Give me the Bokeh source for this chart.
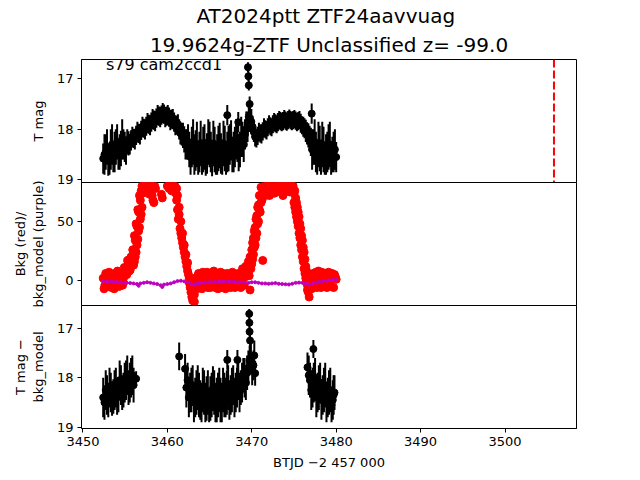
import numpy as np
from bokeh.plotting import figure
from bokeh.layouts import column
from bokeh.models import Range1d, FixedTicker, Label, Span, Title
from bokeh.embed import file_html
from bokeh.resources import INLINE

# ---------------- data ----------------
t_mag = [3452.4, 3452.7, 3453.0, 3453.3, 3453.6, 3453.9, 3454.2, 3454.5, 3454.8, 3455.1,
         3455.4, 3455.7, 3456.0, 3456.3, 3456.6, 3456.9, 3457.2, 3457.5, 3457.8, 3458.1,
         3458.4, 3458.7, 3459.0, 3459.3, 3459.6, 3459.9, 3460.2, 3460.5, 3460.8, 3461.1,
         3461.4, 3461.7, 3462.0, 3462.3, 3462.6, 3462.9, 3463.2, 3463.5, 3463.8, 3464.1,
         3464.4, 3464.7, 3465.0, 3465.3, 3465.6, 3465.9, 3466.2, 3466.5, 3466.8, 3467.1,
         3467.4, 3467.7, 3468.0, 3468.3, 3468.6, 3468.9, 3469.2, 3469.5, 3469.8, 3470.1,
         3470.4, 3470.7, 3471.0, 3471.3, 3471.6, 3471.9, 3472.2, 3472.5, 3472.8, 3473.1,
         3473.4, 3473.7, 3474.0, 3474.3, 3474.6, 3474.9, 3475.2, 3475.5, 3475.8, 3476.1,
         3476.4, 3476.7, 3477.0, 3477.3, 3477.6, 3477.9, 3478.2, 3478.5, 3478.8, 3479.1,
         3479.4, 3479.7, 3480.0,
         3467.1, 3468.4, 3469.55, 3469.6, 3469.65, 3469.75, 3477.1,
         3452.55, 3452.85, 3453.15, 3453.45, 3453.75, 3454.05, 3454.35, 3454.65, 3454.95, 3455.25,
         3455.55, 3455.85, 3456.15, 3456.45, 3456.75, 3457.05, 3457.35, 3457.65, 3457.95, 3458.25,
         3458.55, 3458.85, 3459.15, 3459.45, 3459.75, 3460.05, 3460.35, 3460.65, 3460.95, 3461.25,
         3461.55, 3461.85, 3462.15, 3462.45,
         3462.75, 3463.05, 3463.35, 3463.65, 3463.95, 3464.25, 3464.55, 3464.85, 3465.15, 3465.45,
         3465.75, 3466.05, 3466.35, 3466.65, 3466.95, 3467.25, 3467.55, 3467.85, 3468.15, 3468.45,
         3468.75, 3469.05, 3469.35, 3469.65, 3469.95, 3470.25,
         3470.55, 3470.85, 3471.15, 3471.45, 3471.75, 3472.05, 3472.35, 3472.65, 3472.95, 3473.25,
         3473.55, 3473.85, 3474.15, 3474.45, 3474.75, 3475.05, 3475.35, 3475.65, 3475.95, 3476.25,
         3476.55, 3476.85,
         3477.15, 3477.45, 3477.75, 3478.05, 3478.35, 3478.65, 3478.95, 3479.25, 3479.55, 3479.85]
mag = [18.58, 18.45, 18.62, 18.40, 18.55, 18.35, 18.50, 18.38, 18.30, 18.42,
       18.28, 18.22, 18.18, 18.12, 18.08, 18.02, 17.98, 17.94, 17.90, 17.86,
       17.82, 17.78, 17.74, 17.72, 17.70, 17.74, 17.76, 17.80, 17.86, 17.92,
       18.00, 18.10, 18.20, 18.30, 18.40, 18.35, 18.50, 18.30, 18.45, 18.55,
       18.35, 18.48, 18.30, 18.58, 18.40, 18.50, 18.32, 18.55, 18.38, 18.45,
       18.30, 18.50, 18.35, 18.25, 18.40, 18.20, 18.10, 17.95, 17.80, 17.95,
       18.15, 18.13, 18.08, 18.04, 18.00, 17.96, 17.94, 17.90, 17.88, 17.86,
       17.84, 17.84, 17.83, 17.82, 17.82, 17.82, 17.83, 17.84, 17.88, 17.95,
       18.03, 18.12, 18.25, 18.35, 18.45, 18.30, 18.55, 18.40, 18.50, 18.35,
       18.60, 18.45, 18.55,
       17.72, 17.86, 16.77, 16.95, 17.13, 17.50, 17.69,
       18.50, 18.35, 18.60, 18.30, 18.45, 18.25, 18.45, 18.20, 18.35, 18.25,
       18.30, 18.15, 18.20, 18.05, 18.10, 17.95, 18.00, 17.88, 17.92, 17.80,
       17.84, 17.72, 17.76, 17.68, 17.76, 17.72, 17.82, 17.80, 17.92, 17.90,
       18.08, 18.12, 18.30, 18.25,
       18.55, 18.25, 18.42, 18.60, 18.28, 18.40, 18.62, 18.25, 18.45, 18.28,
       18.60, 18.38, 18.48, 18.28, 18.58, 18.38, 18.22, 18.45, 18.20, 18.48,
       18.15, 18.30, 18.00, 17.75, 17.85, 18.05,
       18.18, 18.05, 18.10, 17.96, 18.02, 17.90, 17.96, 17.86, 17.90, 17.82,
       17.86, 17.80, 17.85, 17.79, 17.84, 17.80, 17.86, 17.82, 17.92, 17.98,
       18.08, 18.18,
       18.40, 18.25, 18.55, 18.38, 18.30, 18.60, 18.45, 18.30, 18.50, 18.40]
mag_err = [0.30, 0.35, 0.30, 0.40, 0.30, 0.35, 0.30, 0.35, 0.30, 0.28,
           0.24, 0.20, 0.19, 0.19, 0.19, 0.19, 0.19, 0.19, 0.19, 0.19,
           0.19, 0.19, 0.19, 0.19, 0.19, 0.19, 0.19, 0.19, 0.19, 0.19,
           0.20, 0.22, 0.26, 0.30, 0.35, 0.40, 0.40, 0.45, 0.40, 0.35,
           0.45, 0.40, 0.45, 0.35, 0.45, 0.40, 0.45, 0.35, 0.45, 0.40,
           0.40, 0.35, 0.40, 0.40, 0.35, 0.35, 0.30, 0.30, 0.25, 0.22,
           0.19, 0.18, 0.18, 0.18, 0.18, 0.18, 0.18, 0.18, 0.18, 0.18,
           0.18, 0.18, 0.18, 0.18, 0.18, 0.18, 0.18, 0.18, 0.19, 0.20,
           0.22, 0.24, 0.28, 0.35, 0.40, 0.45, 0.35, 0.45, 0.40, 0.45,
           0.30, 0.40, 0.30,
           0.20, 0.20, 0.10, 0.10, 0.10, 0.15, 0.20,
           0.40, 0.35, 0.30, 0.40, 0.40, 0.35, 0.35, 0.40, 0.30, 0.25,
           0.20, 0.20, 0.20, 0.20, 0.20, 0.20, 0.20, 0.20, 0.20, 0.20,
           0.20, 0.20, 0.20, 0.20, 0.20, 0.20, 0.20, 0.20, 0.20, 0.20,
           0.22, 0.25, 0.30, 0.35,
           0.35, 0.45, 0.40, 0.30, 0.45, 0.45, 0.30, 0.45, 0.40, 0.45,
           0.30, 0.45, 0.40, 0.45, 0.32, 0.45, 0.40, 0.40, 0.40, 0.35,
           0.40, 0.35, 0.35, 0.30, 0.25, 0.20,
           0.18, 0.18, 0.18, 0.18, 0.18, 0.18, 0.18, 0.18, 0.18, 0.18,
           0.18, 0.18, 0.18, 0.18, 0.18, 0.18, 0.18, 0.18, 0.18, 0.20,
           0.22, 0.25,
           0.40, 0.45, 0.35, 0.45, 0.45, 0.30, 0.40, 0.45, 0.35, 0.40]

t_bkg = [3452.4, 3452.6, 3452.8, 3453.0, 3453.2, 3453.4, 3453.6, 3453.8, 3454.0, 3454.2,
         3454.4, 3454.6, 3454.8, 3455.0, 3455.2, 3455.4, 3455.6, 3455.8, 3456.0,
         3456.0, 3456.2, 3456.2, 3456.4, 3456.4, 3456.6, 3456.6, 3456.8, 3456.8, 3456.9,
         3457.0, 3457.0, 3457.2, 3457.4, 3457.6, 3457.8, 3458.0, 3458.2, 3458.2, 3458.4,
         3458.4, 3458.6, 3459.3, 3459.4,
         3460.0, 3460.2, 3460.4, 3460.6, 3460.8, 3461.0,
         3461.1, 3461.2, 3461.3, 3461.4, 3461.5, 3461.6, 3461.7, 3461.8, 3461.9, 3462.0,
         3462.1, 3462.2, 3462.3, 3462.4, 3462.5, 3462.6, 3462.7, 3462.8, 3462.9, 3463.0,
         3463.1, 3463.2, 3463.4,
         3463.6, 3463.8, 3464.0, 3464.2, 3464.4, 3464.6, 3464.8, 3465.0, 3465.2, 3465.4,
         3465.6, 3465.8, 3466.0, 3466.2, 3466.4, 3466.6, 3466.8, 3467.0, 3467.2, 3467.4,
         3467.6, 3467.8, 3468.0, 3468.2, 3468.4, 3468.6, 3468.8, 3469.0,
         3469.2, 3469.3, 3469.5, 3469.6, 3469.8, 3469.8, 3470.0, 3470.0, 3470.2, 3470.2,
         3470.4, 3470.4, 3470.6, 3470.6, 3470.8, 3470.8, 3471.0, 3471.0, 3471.2, 3471.3,
         3471.4, 3471.5, 3471.6,
         3471.8, 3472.0, 3472.2, 3472.4, 3472.6, 3472.8, 3473.0, 3473.2, 3473.4, 3473.6,
         3473.8, 3474.0, 3474.2, 3474.4, 3474.6, 3474.8, 3475.0,
         3475.0, 3475.2, 3475.2, 3475.4, 3475.4, 3475.6, 3475.6, 3475.8, 3475.8, 3476.0,
         3476.0, 3476.2, 3476.2, 3476.4, 3476.4, 3476.6, 3476.7, 3476.8, 3476.9,
         3477.0, 3477.2, 3477.4, 3477.6, 3477.8, 3478.0, 3478.2, 3478.4, 3478.6, 3478.8,
         3479.0, 3479.2, 3479.4, 3479.6, 3479.8, 3480.0,
         3452.5, 3452.7, 3452.9, 3453.1, 3453.3, 3453.5, 3453.7, 3453.9, 3454.1, 3454.3,
         3454.5, 3454.7, 3454.9, 3455.1, 3455.3, 3455.5, 3455.7, 3455.9,
         3456.1, 3456.3, 3456.5, 3456.7, 3456.1, 3456.3, 3456.5, 3456.7, 3456.9, 3457.1,
         3457.1, 3457.3, 3457.5, 3457.7, 3457.9, 3458.1, 3458.3, 3458.5,
         3460.1, 3460.3, 3460.5, 3460.7, 3460.9, 3461.1,
         3461.2, 3461.4, 3461.6, 3461.8, 3462.0, 3462.2, 3462.4, 3462.6, 3462.8, 3463.0,
         3463.2, 3463.3,
         3463.5, 3463.7, 3463.9, 3464.1, 3464.3, 3464.5, 3464.7, 3464.9, 3465.1, 3465.3,
         3465.5, 3465.7, 3465.9, 3466.1, 3466.3, 3466.5, 3466.7, 3466.9, 3467.1, 3467.3,
         3467.5, 3467.7, 3467.9, 3468.1, 3468.3, 3468.5, 3468.7, 3468.9, 3469.1,
         3469.4, 3469.7, 3469.9, 3470.1, 3470.3, 3470.5, 3470.7, 3470.9, 3471.1, 3471.3,
         3470.1, 3470.3, 3470.5, 3470.7, 3470.9, 3471.1,
         3471.7, 3471.9, 3472.1, 3472.3, 3472.5, 3472.7, 3472.9, 3473.1, 3473.3, 3473.5,
         3473.7, 3473.9, 3474.1, 3474.3, 3474.5, 3474.7, 3474.9,
         3475.1, 3475.3, 3475.5, 3475.7, 3475.9, 3476.1, 3476.3, 3476.5,
         3475.1, 3475.3, 3475.5, 3475.7, 3475.9, 3476.1, 3476.3, 3476.5, 3476.6, 3476.8,
         3477.1, 3477.3, 3477.5, 3477.7, 3477.9, 3478.1, 3478.3, 3478.5, 3478.7, 3478.9,
         3479.1, 3479.3, 3479.5, 3479.7, 3479.9]
bkg = [2, -4, 5, -2, 3, -6, 1, 6, -3, 4,
       -1, 7, 2, 10, 5, 14, 9, 18, 13,
       24, 20, 34, 30, 46, 42, 58, 52, 68, 76,
       62, 80, 79, 80, 77, 80, 78, 72, 80, 66,
       79, 78, 73, 70,
       80, 78, 80, 77, 79, 74,
       68, 60, 52, 62, 44, 50, 36, 40, 28, 30,
       20, 22, 12, 15, 5, 2, -6, -10, -14, -17,
       -8, -12, -3,
       4, -5, 2, 7, -3, 3, -6, 5, -1, 6,
       -4, 2, -7, 4, 0, 6, -3, 3, -5, 5,
       -2, 4, -6, 2, 6, -3, 4, 8,
       3, 12, 8, 16, -8, 20, 14, 26, 22, 36,
       30, 45, 40, 55, 50, 64, 58, 72, 68, 17,
       76, 80, 72,
       80, 76, 80, 74, 79, 80, 77, 80, 75, 80,
       79, 80, 76, 80, 78, 80, 74,
       66, 70, 58, 62, 50, 54, 40, 44, 30, 34,
       20, 24, 10, 12, 2, -4, -10, -14, -6,
       2, -5, 4, 7, -2, 5, -6, 3, 0, 6,
       -3, 4, -5, 2, 5, 1,
       -7, 6, -5, 7, -1, 4, -7, 0, 8, -5,
       3, -4, 11, 6, 17, 8, 20, 26,
       38, 48, 60, 72, 16, 24, 35, 45, 56, 74,
       80, 76, 80, 79, 73, 80, 68, 80,
       80, 79, 76, 80, 80, 78,
       72, 56, 40, 32, 24, 16, 8, -2, -4, -2,
       -18, 2,
       -7, 6, -1, -7, 5, -5, 7, 0, -6, 3,
       8, -6, 5, -2, 7, -6, 2, -7, 6, 0,
       -6, 7, -1, 5, -5, 1, -6, 10, -4,
       5, 4, 10, 18, 28, 36, 48, 60, 66, 78,
       32, 42, 52, 62, 72, 79,
       77, 80, 72, 80, 78, 74, 80, 79, 80, 78,
       72, 80, 78, 80, 75, 79, 80,
       76, 66, 46, 36, 26, 16, 6, -2,
       62, 54, 58, 48, 38, 28, 18, 8, -8, -2,
       -7, 6, -3, -6, 8, 0, 7, -5, 4, -6,
       7, -1, 6, -6, 3]

t_model = [3452.4, 3452.8, 3453.2, 3453.6, 3454.0, 3454.4, 3454.8, 3455.2, 3455.6, 3456.0,
           3456.4, 3456.6, 3456.8, 3457.2, 3457.6, 3458.0, 3458.4, 3458.8, 3459.2, 3459.4,
           3459.6, 3460.0, 3460.4, 3460.8, 3461.2, 3461.6, 3462.0, 3462.4, 3462.8, 3463.2,
           3463.6, 3464.0, 3464.4, 3464.8, 3465.2, 3465.6, 3466.0, 3466.4, 3466.8, 3467.2,
           3467.6, 3468.0, 3468.4, 3468.8, 3469.2, 3469.6, 3470.0, 3470.4, 3470.8, 3471.2,
           3471.6, 3472.0, 3472.4, 3472.8, 3473.2, 3473.6, 3474.0, 3474.4, 3474.8, 3475.2,
           3475.6, 3476.0, 3476.4, 3476.8, 3477.2, 3477.6, 3478.0, 3478.4, 3478.8, 3479.2,
           3479.6, 3480.0]
bkg_model = [-0.5, -0.8, -1.0, -1.2, -1.0, -1.5, -1.8, -2.0, -2.2, -2.5,
             -3.0, -4.5, -2.5, -2.0, -1.5, -2.0, -2.5, -3.0, -4.0, -5.5,
             -3.5, -3.0, -2.5, -1.5, -0.5, -0.2, -0.8, -1.5, -3.0, -3.5,
             -2.5, -2.0, -1.8, -1.5, -1.5, -1.2, -1.0, -1.0, -0.9, -0.8,
             -1.0, -1.2, -1.5, -1.5, -1.8, -2.0, -1.5, -1.5, -2.0, -2.5,
             -2.5, -2.8, -2.5, -2.2, -2.8, -3.0, -3.2, -3.4, -2.8, -2.0,
             -1.8, -2.0, -2.5, -3.4, -2.5, -1.8, -1.2, -0.6, -0.2, 0.2,
             0.6, 1.0]

t_sub = [3452.4, 3452.7, 3453.0, 3453.3, 3453.6, 3453.9, 3454.2, 3454.5, 3454.8, 3455.1,
         3455.4, 3455.7, 3456.0, 3456.3,
         3461.4, 3462.1, 3462.4, 3462.7, 3463.0, 3463.3, 3463.6, 3463.9, 3464.2, 3464.5,
         3464.8, 3465.1, 3465.4, 3465.7, 3466.0, 3466.3, 3466.6, 3466.9, 3467.2, 3467.5,
         3467.8, 3468.1, 3468.4, 3468.7, 3469.0, 3469.3, 3469.6, 3469.9, 3470.2, 3470.4,
         3467.1, 3468.3, 3469.7, 3469.72, 3469.74, 3469.8,
         3476.6, 3476.9, 3477.2, 3477.3, 3477.5, 3477.8, 3478.1, 3478.4, 3478.7, 3479.0,
         3479.3, 3479.6, 3479.8,
         3452.55, 3452.85, 3453.15, 3453.45, 3453.75, 3454.05, 3454.35, 3454.65, 3454.95, 3455.25,
         3455.55, 3455.85,
         3462.25, 3462.55, 3462.85, 3463.15, 3463.45, 3463.75, 3464.05, 3464.35, 3464.65, 3464.95,
         3465.25, 3465.55, 3465.85, 3466.15, 3466.45, 3466.75, 3467.05, 3467.35, 3467.65, 3467.95,
         3468.25, 3468.55, 3468.85, 3469.15, 3469.45, 3469.75, 3470.05, 3470.3,
         3476.75, 3477.05, 3477.35, 3477.65, 3477.95, 3478.25, 3478.55, 3478.85, 3479.15, 3479.45,
         3479.7]
mag_sub = [18.40, 18.25, 18.45, 18.30, 18.38, 18.20, 18.35, 18.15, 18.25, 18.05,
           18.20, 18.00, 18.15, 18.02,
           17.57, 17.82, 18.05, 18.30, 18.15, 18.40, 18.20, 18.45, 18.25, 18.50,
           18.30, 18.42, 18.22, 18.50, 18.35, 18.45, 18.25, 18.40, 18.20, 18.35,
           18.15, 18.30, 18.05, 18.20, 17.95, 18.10, 17.80, 17.60, 17.75, 17.91,
           17.64, 17.64, 16.71, 16.89, 17.07, 17.25,
           17.79, 18.05, 18.20, 17.42, 18.00, 18.30, 18.10, 18.35, 18.15, 18.40,
           18.25, 18.45, 18.30,
           18.50, 18.35, 18.20, 18.42, 18.25, 18.40, 18.05, 18.30, 18.10, 17.95,
           18.10, 17.95,
           18.20, 18.40, 18.25, 18.50, 18.30, 18.35, 18.50, 18.30, 18.42, 18.55,
           18.35, 18.30, 18.45, 18.25, 18.50, 18.35, 18.30, 18.45, 18.25, 18.40,
           18.20, 18.30, 18.10, 18.00, 17.90, 17.65, 17.85, 17.55,
           17.95, 18.25, 18.10, 18.40, 18.20, 18.45, 18.25, 18.50, 18.30, 18.55,
           18.35]
mag_sub_err = [0.40, 0.40, 0.35, 0.40, 0.35, 0.40, 0.35, 0.40, 0.35, 0.40,
               0.35, 0.40, 0.35, 0.15,
               0.28, 0.30, 0.35, 0.40, 0.40, 0.40, 0.45, 0.40, 0.45, 0.40,
               0.45, 0.45, 0.45, 0.40, 0.45, 0.45, 0.45, 0.40, 0.45, 0.40,
               0.40, 0.40, 0.40, 0.35, 0.35, 0.35, 0.35, 0.30, 0.30, 0.25,
               0.20, 0.20, 0.10, 0.10, 0.10, 0.20,
               0.30, 0.35, 0.40, 0.18, 0.40, 0.40, 0.40, 0.40, 0.45, 0.40,
               0.45, 0.40, 0.35,
               0.35, 0.40, 0.40, 0.35, 0.40, 0.35, 0.40, 0.35, 0.40, 0.40,
               0.40, 0.40,
               0.40, 0.40, 0.45, 0.40, 0.45, 0.45, 0.40, 0.45, 0.45, 0.35,
               0.45, 0.45, 0.45, 0.45, 0.40, 0.45, 0.45, 0.40, 0.45, 0.40,
               0.40, 0.40, 0.40, 0.40, 0.35, 0.30, 0.30, 0.30,
               0.40, 0.40, 0.40, 0.40, 0.45, 0.40, 0.45, 0.40, 0.45, 0.35,
               0.40]

peak_line = 3505.8
x_ticks = [3450, 3460, 3470, 3480, 3490, 3500]
mag_ticks = [17, 18, 19]
bkg_ticks = [0, 50]
title_1 = "AT2024ptt  ZTF24aavvuag"
title_2 = "19.9624g-ZTF Unclassified z= -99.0"
field_text = "s79 cam2ccd1"

# ---------------- plotting ----------------
FONT = "DejaVu Sans"
xr = Range1d(3449.83, 3508.47)
OVL = 10  # transparent border overlap between stacked panels


def make_fig(height, yr, top, bottom):
    p = figure(width=640, height=height, x_range=xr, y_range=yr,
               output_backend="svg", toolbar_location=None,
               min_border_left=81, min_border_right=64,
               min_border_top=top, min_border_bottom=bottom)
    p.grid.visible = False
    p.outline_line_color = "black"
    p.outline_line_width = 1
    p.outline_line_alpha = 1
    p.border_fill_alpha = 0
    for ax in (p.xaxis[0], p.yaxis[0]):
        ax.major_tick_out = 4
        ax.major_tick_in = 0
        ax.minor_tick_out = 0
        ax.minor_tick_in = 0
        ax.axis_line_color = "black"
        ax.major_tick_line_color = "black"
        ax.major_label_text_font = FONT
        ax.major_label_text_font_size = "13px"
        ax.major_label_text_color = "black"
        ax.axis_label_text_font = FONT
        ax.axis_label_text_font_size = "13px"
        ax.axis_label_text_font_style = "normal"
        ax.axis_label_text_color = "black"
        ax.major_label_standoff = 4
    p.xaxis.ticker = FixedTicker(ticks=x_ticks)
    return p


# panel 1
p1 = make_fig(59 + 123 + OVL, Range1d(19.054, 16.618), 59, OVL)
p1.xaxis.visible = False
p1.yaxis.ticker = FixedTicker(ticks=mag_ticks)
p1.yaxis.axis_label = "T mag"
p1.yaxis.axis_label_standoff = 8
p1.add_layout(Title(text=title_2, align="center", text_font=FONT, text_font_size="20px",
                    text_font_style="normal", text_color="black",
                    text_line_height=0.8, standoff=6), "above")
p1.add_layout(Title(text=title_1, align="center", text_font=FONT, text_font_size="20px",
                    text_font_style="normal", text_color="black",
                    text_line_height=0.9, standoff=0), "above")
lo1 = np.array(mag) - np.array(mag_err)
hi1 = np.array(mag) + np.array(mag_err)
p1.segment(x0=t_mag, y0=lo1, x1=t_mag, y1=hi1, line_color="black", line_width=2)
p1.scatter(x=t_mag, y=mag, size=7, color="black")
p1.add_layout(Span(location=peak_line, dimension="height", line_color="red",
                   line_dash="8 3", line_width=2))
p1.add_layout(Label(x=3452.73, y=16.72, text=field_text, text_font=FONT,
                    text_font_size="16px", text_baseline="alphabetic", text_color="black"))

# panel 2
p2 = make_fig(OVL + 123 + OVL, Range1d(-21.2, 83.05), OVL, OVL)
p2.margin = (-2 * OVL, 0, 0, 0)
p2.xaxis.visible = False
p2.yaxis.ticker = FixedTicker(ticks=bkg_ticks)
p2.yaxis.axis_label = "Bkg (red)/\nbkg_model (purple)"
p2.yaxis.axis_label_standoff = 8
p2.scatter(x=t_bkg, y=bkg, size=8, color="red")
p2.line(x=t_model, y=bkg_model, color="#bf00bf", line_width=1.5)
p2.scatter(x=t_model, y=bkg_model, size=3, color="#bf00bf")

# panel 3
p3 = make_fig(OVL + 123 + 52, Range1d(19.026, 16.541), OVL, 52)
p3.margin = (-2 * OVL, 0, 0, 0)
p3.yaxis.ticker = FixedTicker(ticks=mag_ticks)
p3.yaxis.axis_label = "T mag \u2212\nbkg_model"
p3.yaxis.axis_label_standoff = 8
p3.xaxis.axis_label = "BTJD \u22122 457 000"
p3.xaxis.axis_label_standoff = 6
lo3 = np.array(mag_sub) - np.array(mag_sub_err)
hi3 = np.array(mag_sub) + np.array(mag_sub_err)
p3.segment(x0=t_sub, y0=lo3, x1=t_sub, y1=hi3, line_color="black", line_width=2)
p3.scatter(x=t_sub, y=mag_sub, size=7, color="black")

layout = column(p1, p2, p3, spacing=0)
open("out.html", "w").write(file_html(layout, INLINE))
